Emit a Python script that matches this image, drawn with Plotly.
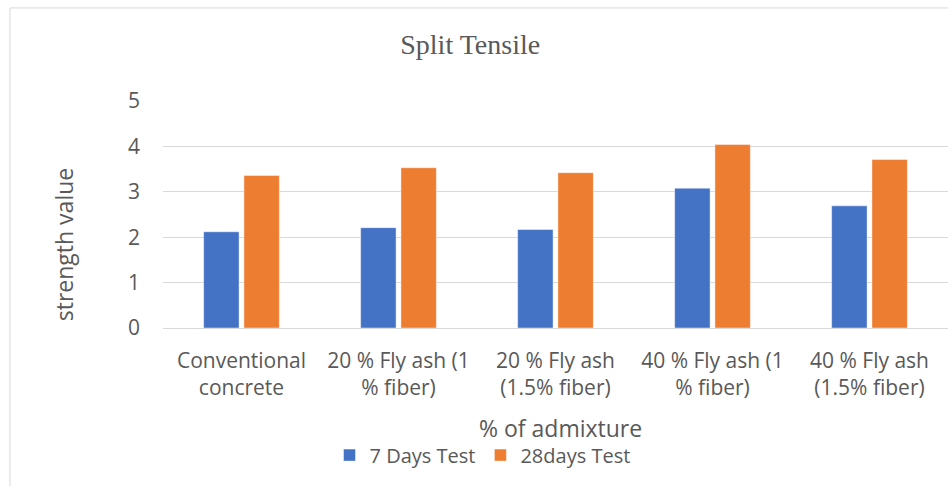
import plotly.graph_objects as go

categories = [
    "Conventional<br>concrete",
    "20 % Fly ash (1<br>% fiber)",
    "20 % Fly ash<br>(1.5% fiber)",
    "40 % Fly ash (1<br>% fiber)",
    "40 % Fly ash<br>(1.5% fiber)",
]
days7 = [2.12, 2.21, 2.17, 3.08, 2.69]
days28 = [3.36, 3.53, 3.42, 4.04, 3.71]
y_ticks = [0, 1, 2, 3, 4, 5]

grey = "#595959"
font_sans = "Open Sans, Noto Sans, sans-serif"

fig = go.Figure()

# 两组柱子
fig.add_trace(go.Bar(
    x=categories, y=days7, name="7 Days Test",
    marker=dict(color="#4472C4", line=dict(color="rgba(255,255,255,0.45)", width=1)),
))
fig.add_trace(go.Bar(
    x=categories, y=days28, name="28days Test",
    marker=dict(color="#ED7D31", line=dict(color="rgba(255,255,255,0.45)", width=1)),
))

fig.update_layout(
    width=948, height=486,
    paper_bgcolor="white", plot_bgcolor="white",
    margin=dict(l=163, r=0, t=101, b=158),
    barmode="group", bargap=0.487, bargroupgap=0.12,
    font=dict(family=font_sans, color=grey, size=18),
    title=dict(
        text="Split Tensile", x=0.496, y=0.909, xref="container", yref="container",
        xanchor="center", yanchor="middle",
        font=dict(family="Liberation Serif, Times New Roman, serif", size=28, color=grey),
    ),
    legend=dict(
        orientation="h", x=0.407, y=-0.56, xanchor="center", yanchor="middle",
        font=dict(size=20, color=grey), traceorder="normal",
    ),
    showlegend=True,
)

fig.update_xaxes(
    showgrid=False, showline=False, ticks="", ticklabelstandoff=18,
    tickfont=dict(size=21, color=grey),
)
fig.update_yaxes(
    range=[0, 5], tickvals=y_ticks, showgrid=True, gridcolor="#d9d9d9", gridwidth=1.3,
    zeroline=True, zerolinecolor="#d9d9d9", zerolinewidth=1.3,
    showline=False, ticks="", ticklabelstandoff=22,
    tickfont=dict(size=21, color=grey),
)

# 轴标题
fig.add_annotation(
    text="strength value", textangle=-90, xref="paper", yref="paper",
    x=-0.126, y=0.365, xanchor="center", yanchor="middle",
    showarrow=False, font=dict(size=23, color=grey),
)
fig.add_annotation(
    text="% of admixture", xref="paper", yref="paper",
    x=0.506, y=-0.44, xanchor="center", yanchor="middle",
    showarrow=False, font=dict(size=23, color=grey),
)

# 外框
fig.add_shape(
    type="rect", xref="paper", yref="paper",
    x0=-0.195, x1=1.2, y0=-1.0, y1=1.41,
    line=dict(color="#d9d9d9", width=1), layer="below",
)

fig.write_html(
    "out.html",
    config={"displayModeBar": False},
    post_script="document.body.style.margin='0px';",
)
